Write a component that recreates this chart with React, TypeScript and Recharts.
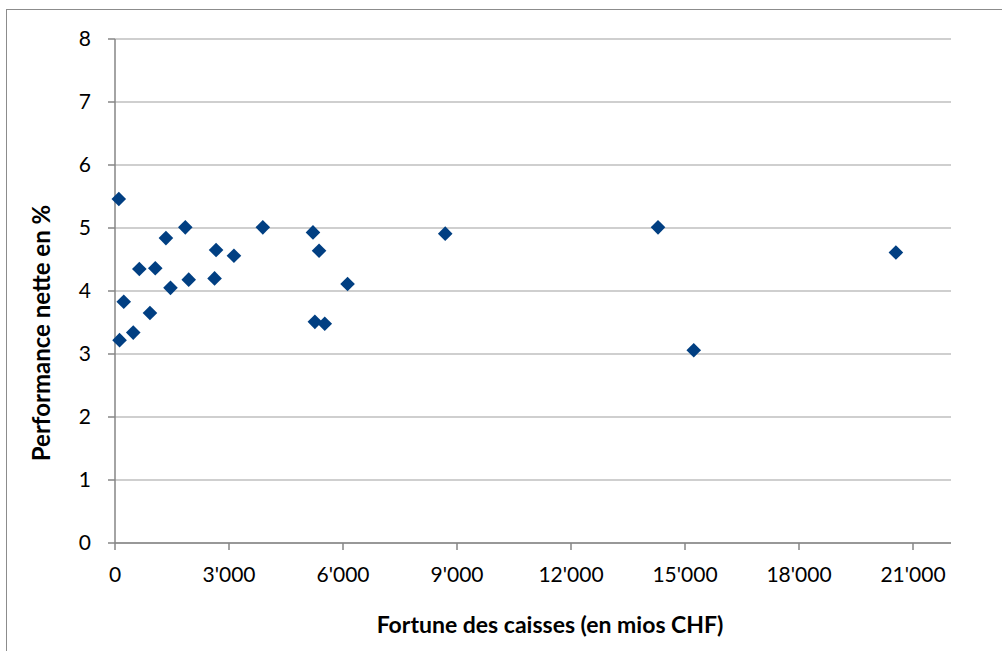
import { ScatterChart, Scatter, XAxis, YAxis, CartesianGrid } from 'recharts'

const fortune = [100, 120, 230, 480, 640, 920, 1060, 1340, 1460, 1850, 1940, 2620, 2660, 3130, 3890, 5210, 5260, 5370, 5520, 6120, 8690, 14290, 15230, 20550]
const performance = [5.46, 3.22, 3.83, 3.34, 4.35, 3.65, 4.36, 4.84, 4.05, 5.01, 4.18, 4.2, 4.65, 4.56, 5.01, 4.93, 3.51, 4.64, 3.48, 4.11, 4.91, 5.01, 3.06, 4.61]
const xTicks = [0, 3000, 6000, 9000, 12000, 15000, 18000, 21000]
const yTicks = [0, 1, 2, 3, 4, 5, 6, 7, 8]

const data = fortune.map((x, i) => ({ x, y: performance[i] }))

const font = 'Lato, "Open Sans", sans-serif'
const fmt = (v: number) => String(v).replace(/\B(?=(\d{3})+(?!\d))/g, "'")

const Diamond = (props: any) => {
  const { cx, cy } = props
  const r = 7.3
  return <polygon points={`${cx},${cy - r} ${cx + r},${cy} ${cx},${cy + r} ${cx - r},${cy}`} fill="#013f82" />
}

export default function App() {
  return (
    <div style={{ position: 'absolute', left: 0, top: 0, width: 1002, height: 651, overflow: 'hidden', background: '#fff', fontFamily: font }}>
      <div style={{ position: 'absolute', left: 6, top: 9, width: 1200, height: 900, border: '1.5px solid #8c8c8c' }} />
      <div style={{ position: 'absolute', left: 0, top: 0 }}>
        <ScatterChart width={1002} height={651} margin={{ top: 39, right: 51, bottom: 68, left: 0 }}>
          <CartesianGrid vertical={false} stroke="#bfbfbf" strokeWidth={1.3} />
          <XAxis
            type="number"
            dataKey="x"
            domain={[0, 22000]}
            ticks={xTicks}
            tickFormatter={fmt}
            height={40}
            tickSize={7}
            tickMargin={17}
            axisLine={{ stroke: '#868686', strokeWidth: 1.5 }}
            tickLine={{ stroke: '#868686', strokeWidth: 1.5 }}
            tick={{ fontFamily: font, fontSize: 21, fill: '#000' }}
          />
          <YAxis
            type="number"
            dataKey="y"
            domain={[0, 8]}
            ticks={yTicks}
            width={115}
            tickSize={7}
            tickMargin={17}
            axisLine={{ stroke: '#868686', strokeWidth: 1.5 }}
            tickLine={{ stroke: '#868686', strokeWidth: 1.5 }}
            tick={{ fontFamily: font, fontSize: 21, fill: '#000' }}
          />
          <Scatter data={data} shape={Diamond} isAnimationActive={false} />
        </ScatterChart>
      </div>
      <div style={{ position: 'absolute', left: 550, top: 624, transform: 'translate(-50%, -50%)', whiteSpace: 'nowrap', fontWeight: 700, fontSize: 23, color: '#000' }}>
        Fortune des caisses (en mios CHF)
      </div>
      <div style={{ position: 'absolute', left: 40, top: 333, transform: 'translate(-50%, -50%) rotate(-90deg)', whiteSpace: 'nowrap', fontWeight: 700, fontSize: 24, color: '#000' }}>
        Performance nette en %
      </div>
    </div>
  )
}
